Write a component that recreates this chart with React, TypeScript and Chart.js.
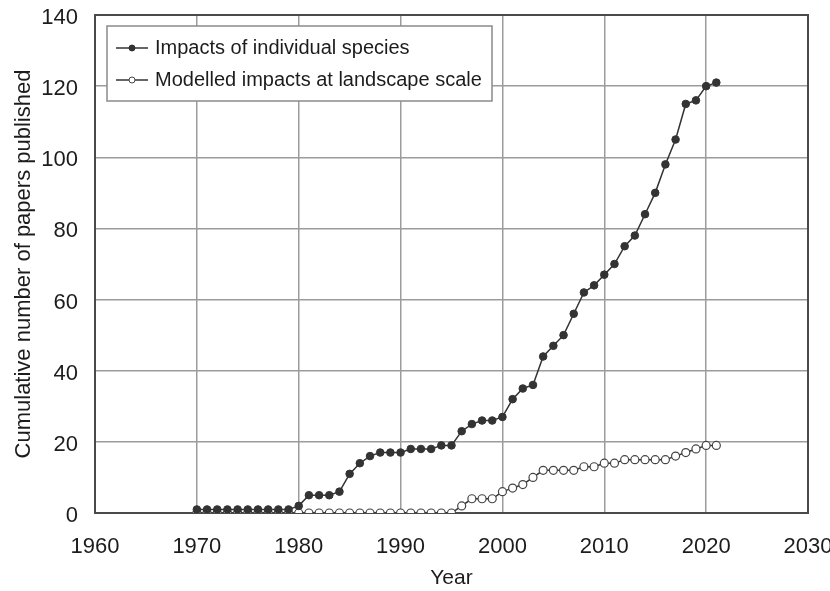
import React, { useEffect, useRef } from "react";
import { Chart, registerables } from "chart.js";

Chart.register(...registerables);

// Publication years covered by the survey
const years: number[] = [
  1970, 1971, 1972, 1973, 1974, 1975, 1976, 1977, 1978, 1979,
  1980, 1981, 1982, 1983, 1984, 1985, 1986, 1987, 1988, 1989,
  1990, 1991, 1992, 1993, 1994, 1995, 1996, 1997, 1998, 1999,
  2000, 2001, 2002, 2003, 2004, 2005, 2006, 2007, 2008, 2009,
  2010, 2011, 2012, 2013, 2014, 2015, 2016, 2017, 2018, 2019,
  2020, 2021,
];

// Cumulative number of papers: impacts of individual species
const individualSpecies: number[] = [
  1, 1, 1, 1, 1, 1, 1, 1, 1, 1,
  2, 5, 5, 5, 6, 11, 14, 16, 17, 17,
  17, 18, 18, 18, 19, 19, 23, 25, 26, 26,
  27, 32, 35, 36, 44, 47, 50, 56, 62, 64,
  67, 70, 75, 78, 84, 90, 98, 105, 115, 116,
  120, 121,
];

// Cumulative number of papers: modelled impacts at landscape scale
const landscapeScale: number[] = [
  0, 0, 0, 0, 0, 0, 0, 0, 0, 0,
  0, 0, 0, 0, 0, 0, 0, 0, 0, 0,
  0, 0, 0, 0, 0, 0, 2, 4, 4, 4,
  6, 7, 8, 10, 12, 12, 12, 12, 13, 13,
  14, 14, 15, 15, 15, 15, 15, 16, 17, 18,
  19, 19,
];

const seriesLabels: string[] = [
  "Impacts of individual species",
  "Modelled impacts at landscape scale",
];

const xTicks = { min: 1960, max: 2030, step: 10 };
const yTicks = { min: 0, max: 140, step: 20 };

const FONT = '"Liberation Sans", Arial, Helvetica, sans-serif';
const INK = "#1c1c1c";
const LINE = "#333333";

// Dark frame around the plotting area
const framePlugin = {
  id: "plotFrame",
  beforeDatasetsDraw(chart: any) {
    const { ctx, chartArea } = chart;
    ctx.save();
    ctx.strokeStyle = "#4a4a4a";
    ctx.lineWidth = 2;
    ctx.strokeRect(
      chartArea.left,
      chartArea.top,
      chartArea.right - chartArea.left,
      chartArea.bottom - chartArea.top
    );
    ctx.restore();
  },
};

// Boxed legend in the upper-left corner of the plotting area
const boxLegendPlugin = {
  id: "boxLegend",
  afterDatasetsDraw(chart: any) {
    const { ctx, chartArea } = chart;
    const x = chartArea.left + 12;
    const y = chartArea.top + 11;
    const w = 385;
    const h = 75;
    ctx.save();
    ctx.fillStyle = "#ffffff";
    ctx.fillRect(x, y, w, h);
    ctx.strokeStyle = "#8a8a8a";
    ctx.lineWidth = 1.5;
    ctx.strokeRect(x, y, w, h);

    const rows = [y + 22, y + 54];
    chart.data.datasets.forEach((ds: any, i: number) => {
      const cy = rows[i];
      const lx0 = x + 9;
      const lx1 = x + 41;
      ctx.strokeStyle = LINE;
      ctx.lineWidth = 1.5;
      ctx.beginPath();
      ctx.moveTo(lx0, cy);
      ctx.lineTo(lx1, cy);
      ctx.stroke();
      ctx.beginPath();
      ctx.arc((lx0 + lx1) / 2, cy, 3, 0, Math.PI * 2);
      ctx.fillStyle = ds.pointBackgroundColor;
      ctx.fill();
      ctx.strokeStyle = ds.pointBorderColor;
      ctx.lineWidth = 1;
      ctx.stroke();

      ctx.fillStyle = INK;
      ctx.font = `20px ${FONT}`;
      ctx.textBaseline = "middle";
      ctx.textAlign = "left";
      ctx.fillText(ds.label, x + 48, cy);
    });
    ctx.restore();
  },
};

export default function App() {
  const canvasRef = useRef<HTMLCanvasElement | null>(null);

  useEffect(() => {
    document.body.style.margin = "0";
    const canvas = canvasRef.current;
    if (!canvas) return;

    const chart = new Chart(canvas, {
      type: "line",
      data: {
        datasets: [
          {
            label: seriesLabels[0],
            data: years.map((yr, i) => ({ x: yr, y: individualSpecies[i] })),
            borderColor: LINE,
            borderWidth: 1.5,
            pointRadius: 3.8,
            pointBackgroundColor: "#333333",
            pointBorderColor: "#333333",
            pointBorderWidth: 1,
            tension: 0,
          },
          {
            label: seriesLabels[1],
            data: years.map((yr, i) => ({ x: yr, y: landscapeScale[i] })),
            borderColor: LINE,
            borderWidth: 1.5,
            pointRadius: 4,
            pointBackgroundColor: "#ffffff",
            pointBorderColor: "#444444",
            pointBorderWidth: 1.2,
            tension: 0,
          },
        ],
      },
      options: {
        responsive: false,
        animation: false,
        devicePixelRatio: 1,
        layout: { padding: { left: 0, top: 15, right: 22, bottom: 0 } },
        plugins: {
          legend: { display: false },
          tooltip: { enabled: false },
        },
        scales: {
          x: {
            type: "linear",
            min: xTicks.min,
            max: xTicks.max,
            afterFit: (s: any) => {
              s.height = 78;
              s.paddingLeft = 0;
              s.paddingRight = 0;
            },
            ticks: {
              stepSize: xTicks.step,
              autoSkip: false,
              maxRotation: 0,
              padding: 21,
              color: INK,
              font: { family: FONT, size: 22 },
              callback: (v: any) => String(v),
            },
            grid: { color: "#9c9c9c", lineWidth: 1.5, drawTicks: false },
            border: { display: false },
            title: {
              display: true,
              text: "Year",
              color: INK,
              font: { family: FONT, size: 21 },
              padding: { top: 0, bottom: 0 },
            },
          },
          y: {
            min: yTicks.min,
            max: yTicks.max,
            afterFit: (s: any) => {
              s.width = 95;
              s.paddingTop = 0;
              s.paddingBottom = 0;
            },
            ticks: {
              stepSize: yTicks.step,
              padding: 17,
              labelOffset: 3,
              color: INK,
              font: { family: FONT, size: 22 },
            },
            grid: { color: "#9c9c9c", lineWidth: 1.5, drawTicks: false },
            border: { display: false },
            title: {
              display: true,
              text: "Cumulative number of papers published",
              color: INK,
              font: { family: FONT, size: 22 },
              padding: { top: 11, bottom: 0 },
            },
          },
        },
      },
      plugins: [framePlugin, boxLegendPlugin],
    });

    return () => chart.destroy();
  }, []);

  return (
    <div style={{ position: "absolute", left: 0, top: 0, width: 830, height: 591, background: "#ffffff" }}>
      <canvas ref={canvasRef} width={830} height={591} />
    </div>
  );
}
